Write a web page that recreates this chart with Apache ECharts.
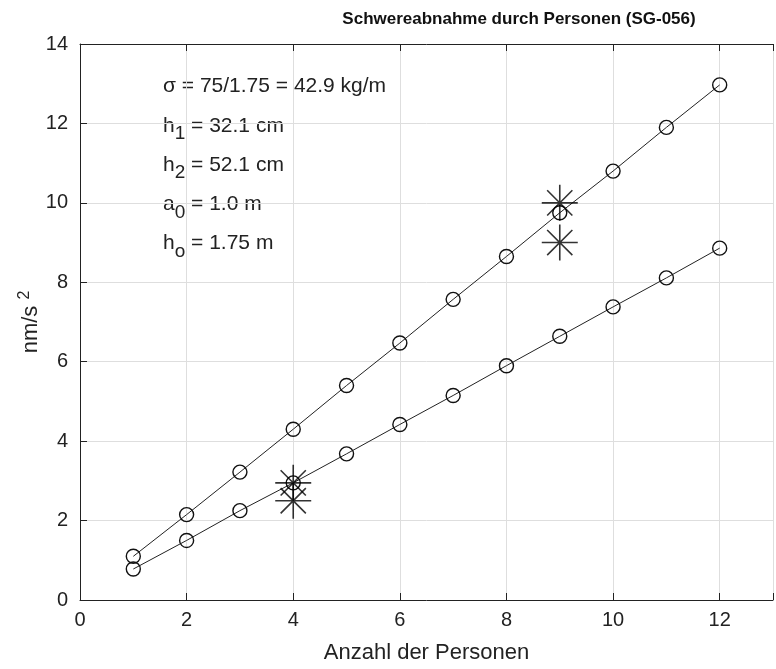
<!DOCTYPE html>
<html>
<head>
<meta charset="utf-8">
<script src="https://cdn.jsdelivr.net/npm/echarts@6/dist/echarts.min.js"></script>
<style>
  html, body { margin: 0; padding: 0; background: #fff; }
  #chart { width: 776px; height: 669px; }
</style>
</head>
<body>
<div id="chart"></div>
<script>
const persons = [1, 2, 3, 4, 5, 6, 7, 8, 9, 10, 11, 12];
const upperSeries = [1.1, 2.15, 3.22, 4.3, 5.4, 6.47, 7.57, 8.65, 9.75, 10.8, 11.9, 12.97];
const lowerSeries = [0.78, 1.5, 2.25, 2.95, 3.68, 4.42, 5.15, 5.9, 6.64, 7.38, 8.11, 8.86];
const starX = [4, 4, 9, 9];
const starY = [2.95, 2.5, 10.0, 9.0];
const xTicks = [0, 2, 4, 6, 8, 10, 12];
const yTicks = [0, 2, 4, 6, 8, 10, 12, 14];
const notes = [
  "σ = 75/1.75 = 42.9 kg/m",
  "h{sub|1} = 32.1 cm",
  "h{sub|2} = 52.1 cm",
  "a{sub|0} = 1.0 m",
  "h{sub|o} = 1.75 m"
];

const FONT = "Liberation Sans";
const INK = "#222";

const pairs = (xs, ys) => xs.map((x, i) => [x, ys[i]]);

const asterisk = "path://M0,-10L0,10M-10,0L10,0M-7,-7L7,7M-7,7L7,-7";

const chart = echarts.init(document.getElementById("chart"));
chart.setOption({
  animation: false,
  backgroundColor: "#fff",
  title: {
    text: "Schwereabnahme durch Personen (SG-056)",
    left: 514,
    top: 6,
    textAlign: "center",
    textStyle: { fontFamily: FONT, fontSize: 17, fontWeight: "bold", color: "#111" },
  },
  grid: { left: 80, top: 44, bottom: 66, right: -12 },
  xAxis: [
    {
      type: "value",
      min: 0,
      max: 13,
      interval: 2,
      name: "Anzahl der Personen",
      nameLocation: "middle",
      nameGap: 42,
      nameTextStyle: { fontFamily: FONT, fontSize: 22, color: INK },
      axisLine: { show: true, lineStyle: { color: INK, width: 1 } },
      axisTick: { inside: true, length: 7, lineStyle: { color: INK } },
      axisLabel: {
        fontFamily: FONT, fontSize: 20, color: INK, margin: 10,
        formatter: (v) => (xTicks.includes(v) ? String(v) : ""),
      },
      splitLine: { show: true, lineStyle: { color: "#dedede", width: 1 } },
    },
    {
      type: "value",
      position: "top",
      min: 0,
      max: 13,
      interval: 2,
      axisLine: { show: true, lineStyle: { color: INK, width: 1 } },
      axisTick: { inside: true, length: 7, lineStyle: { color: INK } },
      axisLabel: { show: false },
      splitLine: { show: false },
    },
  ],
  yAxis: {
    type: "value",
    min: 0,
    max: 14,
    interval: 2,
    name: "nm/s {sup|2}",
    nameLocation: "middle",
    nameGap: 35,
    nameMoveOverlap: false,
    nameTextStyle: {
      fontFamily: FONT, fontSize: 22, color: INK,
      rich: { sup: { fontFamily: FONT, fontSize: 16, color: INK, verticalAlign: "top", padding: [0, 0, 12, 0] } },
    },
    axisLine: { show: true, lineStyle: { color: INK, width: 1 } },
    axisTick: { inside: true, length: 7, lineStyle: { color: INK } },
    axisLabel: {
      fontFamily: FONT, fontSize: 20, color: INK, margin: 12,
      formatter: (v) => (yTicks.includes(v) ? String(v) : ""),
    },
    splitLine: { show: true, lineStyle: { color: "#dedede", width: 1 } },
  },
  graphic: notes.map((t, i) => ({
    type: "text",
    left: 163,
    top: 76 + i * 39.3,
    style: {
      text: t,
      fontFamily: FONT,
      fontSize: 21,
      fill: INK,
      rich: {
        sub: { fontFamily: FONT, fontSize: 19, fill: INK, padding: [16, 0, 0, 0] },
      },
    },
  })),
  series: [
    {
      type: "line",
      data: pairs(persons, upperSeries),
      symbol: "circle",
      symbolSize: 14,
      showAllSymbol: true,
      lineStyle: { color: INK, width: 1 },
      itemStyle: { color: "rgba(255,255,255,0)", borderColor: "#111", borderWidth: 1.4 },
      z: 3,
    },
    {
      type: "line",
      data: pairs(persons, lowerSeries),
      symbol: "circle",
      symbolSize: 14,
      showAllSymbol: true,
      lineStyle: { color: INK, width: 1 },
      itemStyle: { color: "rgba(255,255,255,0)", borderColor: "#111", borderWidth: 1.4 },
      z: 3,
    },
    {
      type: "scatter",
      data: pairs(starX, starY),
      symbol: asterisk,
      symbolSize: 36,
      itemStyle: { color: "none", borderColor: "#000", borderWidth: 1.6 },
      z: 4,
    },
  ],
});
</script>
</body>
</html>
